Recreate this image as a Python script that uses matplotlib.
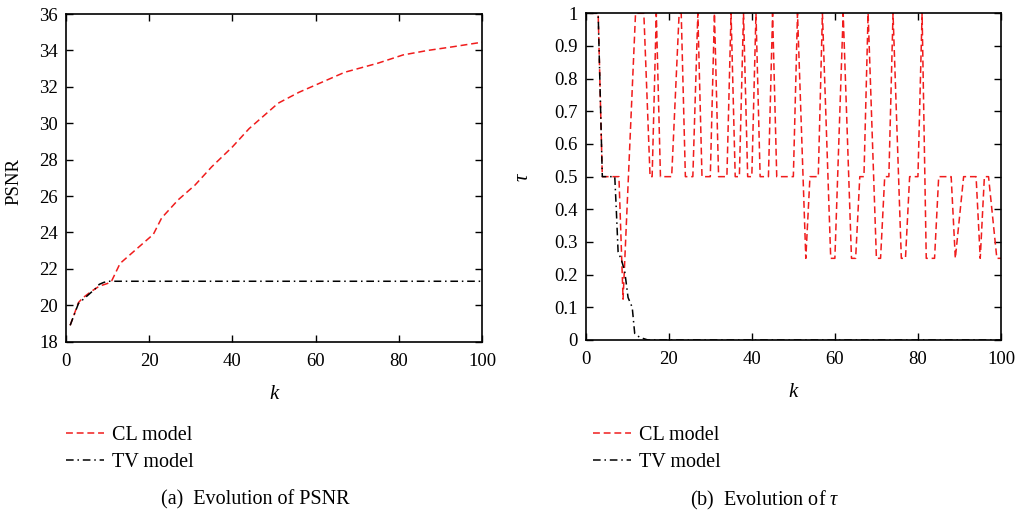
import matplotlib
matplotlib.use('Agg')
import matplotlib.pyplot as plt

# (a) PSNR against iteration k, breakpoints
k_psnr_cl = [1, 3, 4, 6, 8, 10, 11, 13, 15, 18, 21, 23, 27, 31, 35, 40, 44, 48,
             51, 56, 60, 67, 75, 81, 87, 93, 100]
psnr_cl = [18.9, 20.15, 20.4, 20.75, 21.05, 21.2, 21.35, 22.3, 22.7, 23.3, 23.9,
           24.8, 25.8, 26.6, 27.6, 28.7, 29.7, 30.5, 31.1, 31.7, 32.1, 32.8,
           33.3, 33.75, 34.0, 34.2, 34.45]
k_psnr_tv = [1, 3, 5, 7, 8, 9, 10, 100]
psnr_tv = [18.9, 20.1, 20.5, 20.9, 21.15, 21.25, 21.32, 21.32]

# (b) tau against iteration k
k_tau_cl = [1, 3, 4, 8, 9, 12, 14, 15.5, 16, 17, 18, 20.7, 22.5, 23, 24, 25.8,
            27, 28, 30, 31, 32, 34, 35, 36, 37, 38, 39, 40, 41, 42, 44, 45, 46,
            50, 51, 53, 54, 56, 57, 59, 60, 62, 64, 65, 66, 67, 68, 70, 71, 72,
            73, 74, 76, 77, 78, 80, 81, 82, 84, 85, 88, 89, 91, 94, 95, 96, 97,
            99, 100]
tau_cl = [1, 1, 0.5, 0.5, 0.125, 1, 1, 0.5, 0.5, 1, 0.5, 0.5, 1, 1, 0.5, 0.5,
          1, 0.5, 0.5, 1, 0.5, 0.5, 1, 0.5, 0.5, 1, 0.5, 0.5, 1, 0.5, 0.5, 1, 0.5,
          0.5, 1, 0.25, 0.5, 0.5, 1, 0.25, 0.25, 1, 0.25, 0.25, 0.5, 0.5, 1, 0.25,
          0.25, 0.5, 0.5, 1, 0.25, 0.25, 0.5, 0.5, 1, 0.25, 0.25, 0.5, 0.5, 0.25,
          0.5, 0.5, 0.25, 0.5, 0.5, 0.25, 0.25]
k_tau_tv = [1, 3, 4, 7, 7.4, 7.8, 8.6, 9.4, 10.2, 11.2, 11.8, 13, 15, 100]
tau_tv = [1, 1, 0.5, 0.5, 0.39, 0.27, 0.245, 0.21, 0.13, 0.10, 0.02, 0.008, 0, 0]

labels = ['CL model', 'TV model']
captions = ['(a)  Evolution of PSNR', r'(b)  Evolution of $\tau$']

plt.rcParams['font.family'] = ['Liberation Serif', 'DejaVu Serif']
plt.rcParams['font.size'] = 13.5
plt.rcParams['mathtext.fontset'] = 'custom'
plt.rcParams['mathtext.rm'] = 'Liberation Serif'
plt.rcParams['mathtext.it'] = 'Liberation Serif:italic'

red = '#f01c1c'
cl_style = dict(color=red, lw=1.1, dashes=(4.5, 2.5))
tv_style = dict(color='black', lw=1.1, dashes=(5, 2.5, 1, 2.5))

W, H = 1021, 518
fig = plt.figure(figsize=(W / 100, H / 100), dpi=100)


def add_px_axes(left, top, right, bottom):
    return fig.add_axes([left / W, 1 - bottom / H, (right - left) / W, (bottom - top) / H])


ax1 = add_px_axes(66, 14, 482, 341.7)
ax2 = add_px_axes(585.7, 13.3, 1001, 340)

ax1.plot(k_psnr_cl, psnr_cl, label=labels[0], **cl_style)
ax1.plot(k_psnr_tv, psnr_tv, label=labels[1], **tv_style)
ax1.set_xlim(0, 100)
ax1.set_ylim(18, 36)
ax1.set_yticks(range(18, 37, 2))
ax1.set_ylabel('PSNR')
ax1.yaxis.set_label_coords(-0.105, 0.49)

ax2.plot(k_tau_cl, tau_cl, label=labels[0], **cl_style)
ax2.plot(k_tau_tv, tau_tv, label=labels[1], **tv_style)
ax2.set_xlim(0, 100)
ax2.set_ylim(0, 1)
ax2.set_yticks([i / 10 for i in range(11)])
ax2.set_yticklabels(['0', '0.1', '0.2', '0.3', '0.4', '0.5', '0.6', '0.7', '0.8', '0.9', '1'])
ax2.set_ylabel(r'$\tau$', fontsize=15)
ax2.yaxis.set_label_coords(-0.127, 0.5)

for ax, lx, cap_x in [(ax1, 66, 255), (ax2, 593, 765)]:
    ax.set_xticks(range(0, 101, 20))
    ax.set_xlabel('k', fontstyle='italic', fontsize=15)
    ax.xaxis.set_label_coords(0.5, -0.132)
    ax.tick_params(direction='in', top=True, right=True, length=5, width=1)
    ax.tick_params(axis='x', pad=8)
    ax.tick_params(axis='y', pad=6)
    for s in ax.spines.values():
        s.set_linewidth(1.2)
    ax.legend(loc='center left', bbox_to_anchor=(lx / W, 1 - 449 / H),
              bbox_transform=fig.transFigure, frameon=False, fontsize=14.5,
              borderpad=0, borderaxespad=0, handlelength=1.9, handletextpad=0.4,
              labelspacing=0.4)
    fig.text(cap_x / W, 1 - 500 / H, captions[ax is ax2], ha='center', va='center',
             fontsize=14.5)

fig.savefig('out.png', dpi=100)
